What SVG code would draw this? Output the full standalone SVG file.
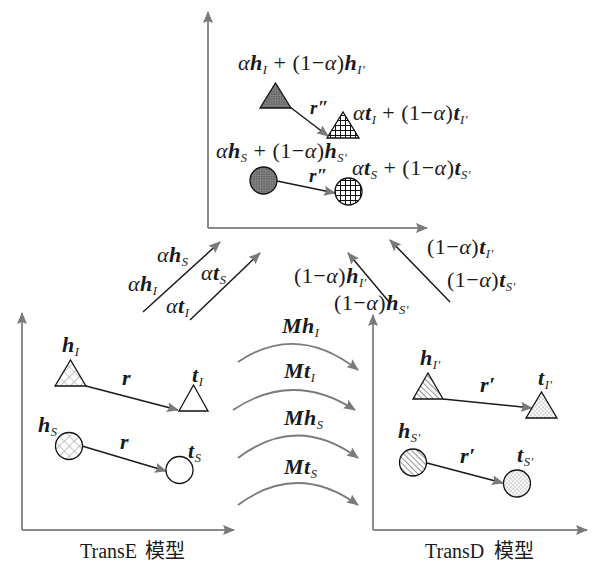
<svg xmlns="http://www.w3.org/2000/svg" width="592" height="565" viewBox="0 0 592 565" font-family="'Liberation Serif', 'Times New Roman', serif">
<style>
text{font-family:"Liberation Serif","Times New Roman","DejaVu Serif",serif}
.t{font-size:22px;fill:#1a1a1a;letter-spacing:0.5px}
.b{font-weight:bold;font-style:italic}
.i{font-style:italic}
.s{font-size:12.5px;font-style:italic}
.rr{font-size:19px}
.cap{font-family:"Liberation Serif","Noto Sans CJK SC",serif;font-size:20px;fill:#1a1a1a}
.ax{stroke:#8a8a8a;stroke-width:2;fill:none;marker-end:url(#ah)}
.ln{stroke:#1a1a1a;stroke-width:1.5;fill:none;marker-end:url(#ah)}
.arc{stroke:#7a7a7a;stroke-width:1.8;fill:none;marker-end:url(#ah)}
.sh{stroke:#111;stroke-width:1.3}
</style>
<defs>
<marker id="ah" viewBox="0 0 12 10" refX="11" refY="5" markerWidth="12" markerHeight="10" markerUnits="userSpaceOnUse" orient="auto"><path d="M0,0 L12,5 L0,10 L2,5 z" fill="#7a7a7a"/></marker>
<pattern id="pXh" width="7" height="7" patternUnits="userSpaceOnUse" patternTransform="rotate(45)"><rect width="7" height="7" fill="#fff"/><path d="M0,0 V7 M0,0 H7" stroke="#9a9a9a" stroke-width="1.2"/></pattern>
<pattern id="pDark" width="2.5" height="2.5" patternUnits="userSpaceOnUse"><rect width="2.5" height="2.5" fill="#6a6a6a"/><path d="M0,0 H2.5 M0,0 V2.5" stroke="#a0a0a0" stroke-width="0.6"/></pattern>
<pattern id="pGrid" width="5" height="5" patternUnits="userSpaceOnUse"><rect width="5" height="5" fill="#fff"/><path d="M0,0.5 H5 M0.5,0 V5" stroke="#111" stroke-width="1"/></pattern>
<pattern id="pStripe" width="4" height="4" patternUnits="userSpaceOnUse" patternTransform="rotate(-45)"><rect width="4" height="4" fill="#fff"/><path d="M0,0 V4" stroke="#777" stroke-width="1.6"/></pattern>
<pattern id="pDot" width="4" height="4" patternUnits="userSpaceOnUse"><rect width="4" height="4" fill="#f6f6f6"/><circle cx="1" cy="1" r="0.6" fill="#888"/><circle cx="3" cy="3" r="0.6" fill="#888"/></pattern>
</defs>

<g id="connectors">
<path class="ax" d="M208,228 V12"/>
<path class="ax" d="M208,228 H427"/>
<path class="ax" d="M22,530 V313"/>
<path class="ax" d="M22,530 H234"/>
<path class="ax" d="M373,530 V315"/>
<path class="ax" d="M373,530 H587"/>
<path class="ln" d="M290,107 L328,136"/>
<path class="ln" d="M277,181 L335,193"/>
<path class="ln" d="M86,386 L178,410"/>
<path class="ln" d="M82,446 L166,471"/>
<path class="ln" d="M443,399 L532,408"/>
<path class="ln" d="M427,463 L503,483"/>
<path class="ln" d="M143,312 L220,242"/>
<path class="ln" d="M190,320 L260,253"/>
<path class="ln" d="M390,303 L348,253"/>
<path class="ln" d="M450,302 L390,240"/>
<path class="arc" d="M238,362 Q297,322 358,370"/>
<path class="arc" d="M233,410 Q293,370 355,410"/>
<path class="arc" d="M238,458 Q297,413 358,458"/>
<path class="arc" d="M238,505 Q297,461 358,505"/>
</g>

<g id="top-head-I">
<polygon class="sh" points="260,108 275.5,83 291,108" fill="url(#pDark)"/>
<text class="t" x="238" y="70"><tspan class="i">α</tspan><tspan class="b">h</tspan><tspan class="s" dy="4">I</tspan><tspan dy="-4"> + (1−</tspan><tspan class="i">α</tspan><tspan>)</tspan><tspan class="b">h</tspan><tspan class="s" dy="4">I′</tspan></text>
</g>
<g id="top-tail-I">
<polygon class="sh" points="327,138 343,112 359,138" fill="url(#pGrid)"/>
<text class="t" x="353" y="120"><tspan class="i">α</tspan><tspan class="b">t</tspan><tspan class="s" dy="4">I</tspan><tspan dy="-4"> + (1−</tspan><tspan class="i">α</tspan><tspan>)</tspan><tspan class="b">t</tspan><tspan class="s" dy="4">I′</tspan></text>
</g>
<g id="top-head-S">
<circle class="sh" cx="263.5" cy="180.5" r="13.5" fill="url(#pDark)"/>
<text class="t" x="216" y="158"><tspan class="i">α</tspan><tspan class="b">h</tspan><tspan class="s" dy="4">S</tspan><tspan dy="-4"> + (1−</tspan><tspan class="i">α</tspan><tspan>)</tspan><tspan class="b">h</tspan><tspan class="s" dy="4">S′</tspan></text>
</g>
<g id="top-tail-S">
<circle class="sh" cx="348.5" cy="191.5" r="13.5" fill="url(#pGrid)"/>
<text class="t" x="352" y="175"><tspan class="i">α</tspan><tspan class="b">t</tspan><tspan class="s" dy="4">S</tspan><tspan dy="-4"> + (1−</tspan><tspan class="i">α</tspan><tspan>)</tspan><tspan class="b">t</tspan><tspan class="s" dy="4">S′</tspan></text>
</g>
<g id="top-rel">
<text class="t b rr" x="310" y="114">r″</text>
<text class="t b rr" x="309" y="182">r″</text>
</g>

<g id="mix-labels">
<text class="t" x="157" y="262"><tspan class="i">α</tspan><tspan class="b">h</tspan><tspan class="s" dy="4">S</tspan></text>
<text class="t" x="128" y="291"><tspan class="i">α</tspan><tspan class="b">h</tspan><tspan class="s" dy="4">I</tspan></text>
<text class="t" x="201" y="280"><tspan class="i">α</tspan><tspan class="b">t</tspan><tspan class="s" dy="4">S</tspan></text>
<text class="t" x="166" y="313"><tspan class="i">α</tspan><tspan class="b">t</tspan><tspan class="s" dy="4">I</tspan></text>
<text class="t" x="427" y="254"><tspan>(1−</tspan><tspan class="i">α</tspan><tspan>)</tspan><tspan class="b">t</tspan><tspan class="s" dy="4">I′</tspan></text>
<text class="t" x="294" y="283"><tspan>(1−</tspan><tspan class="i">α</tspan><tspan>)</tspan><tspan class="b">h</tspan><tspan class="s" dy="4">I′</tspan></text>
<text class="t" x="334" y="310"><tspan>(1−</tspan><tspan class="i">α</tspan><tspan>)</tspan><tspan class="b">h</tspan><tspan class="s" dy="4">S′</tspan></text>
<text class="t" x="447" y="287"><tspan>(1−</tspan><tspan class="i">α</tspan><tspan>)</tspan><tspan class="b">t</tspan><tspan class="s" dy="4">S′</tspan></text>
</g>

<g id="map-labels">
<text class="t" x="282" y="333"><tspan class="b">Mh</tspan><tspan class="s" dy="4">I</tspan></text>
<text class="t" x="284" y="378"><tspan class="b">Mt</tspan><tspan class="s" dy="4">I</tspan></text>
<text class="t" x="284" y="425"><tspan class="b">Mh</tspan><tspan class="s" dy="4">S</tspan></text>
<text class="t" x="284" y="474"><tspan class="b">Mt</tspan><tspan class="s" dy="4">S</tspan></text>
</g>

<g id="transe-head-I">
<polygon class="sh" points="55,386 70.5,360 86,386" fill="url(#pXh)"/>
<text class="t" x="62" y="352"><tspan class="b">h</tspan><tspan class="s" dy="4">I</tspan></text>
</g>
<g id="transe-tail-I">
<polygon class="sh" points="179,411 193.5,385 208,411" fill="#fff"/>
<text class="t" x="192" y="382"><tspan class="b">t</tspan><tspan class="s" dy="4">I</tspan></text>
</g>
<g id="transe-head-S">
<circle class="sh" cx="69" cy="446" r="13.5" fill="url(#pXh)"/>
<text class="t" x="38" y="432"><tspan class="b">h</tspan><tspan class="s" dy="4">S</tspan></text>
</g>
<g id="transe-tail-S">
<circle class="sh" cx="179.5" cy="470" r="13.5" fill="#fff"/>
<text class="t" x="188" y="458"><tspan class="b">t</tspan><tspan class="s" dy="4">S</tspan></text>
</g>
<g id="transe-rel">
<text class="t b" x="122" y="385">r</text>
<text class="t b" x="120" y="449">r</text>
<text class="cap" x="80" y="558">TransE<tspan x="145">模型</tspan></text>
</g>

<g id="transd-head-I">
<polygon class="sh" points="413,399 428,373 443,399" fill="url(#pStripe)"/>
<text class="t" x="420" y="365"><tspan class="b">h</tspan><tspan class="s" dy="4">I′</tspan></text>
</g>
<g id="transd-tail-I">
<polygon class="sh" points="526,418 541.5,392 557,418" fill="url(#pDot)"/>
<text class="t" x="538" y="385"><tspan class="b">t</tspan><tspan class="s" dy="4">I′</tspan></text>
</g>
<g id="transd-head-S">
<circle class="sh" cx="413" cy="462.5" r="13.5" fill="url(#pStripe)"/>
<text class="t" x="398" y="438"><tspan class="b">h</tspan><tspan class="s" dy="4">S′</tspan></text>
</g>
<g id="transd-tail-S">
<circle class="sh" cx="517" cy="483.5" r="13.5" fill="url(#pDot)"/>
<text class="t" x="517" y="462"><tspan class="b">t</tspan><tspan class="s" dy="4">S′</tspan></text>
</g>
<g id="transd-rel">
<text class="t b" x="480" y="392">r′</text>
<text class="t b" x="460" y="463">r′</text>
<text class="cap" x="425" y="558">TransD<tspan x="494">模型</tspan></text>
</g>
</svg>
